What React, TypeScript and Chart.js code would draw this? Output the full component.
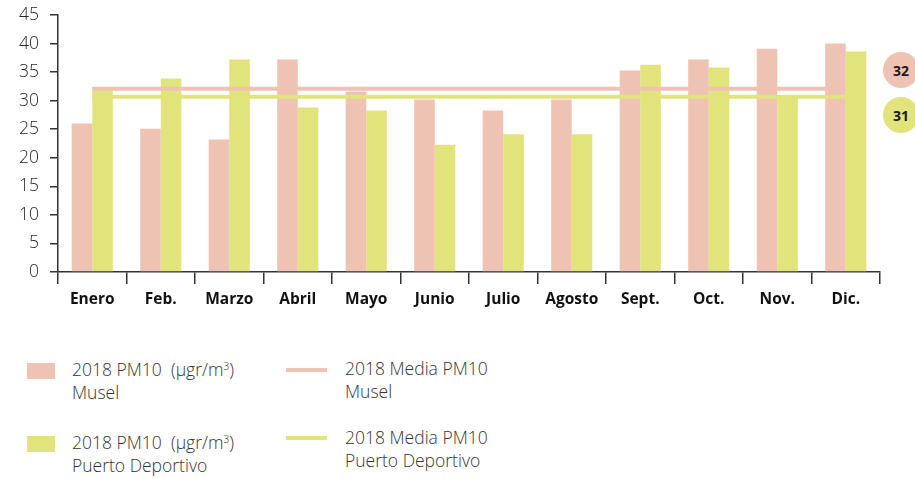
import React, { useEffect, useRef } from "react";
import { Chart, registerables } from "chart.js";

Chart.register(...registerables);

const months = ["Enero", "Feb.", "Marzo", "Abril", "Mayo", "Junio", "Julio", "Agosto", "Sept.", "Oct.", "Nov.", "Dic."];
const muselPM10 = [26.0, 25.1, 23.2, 37.2, 31.6, 30.2, 28.3, 30.2, 35.3, 37.2, 39.1, 40.0];
const puertoPM10 = [32.4, 33.9, 37.2, 28.8, 28.3, 22.3, 24.1, 24.1, 36.3, 35.8, 31.0, 38.6];
const muselMedia = [32.1, 32.1, 32.1, 32.1, 32.1, 32.1, 32.1, 32.1, 32.1, 32.1, 32.1, 32.1];
const puertoMedia = [30.7, 30.7, 30.7, 30.7, 30.7, 30.7, 30.7, 30.7, 30.7, 30.7, 30.7, 30.7];
const yTicks = [0, 5, 10, 15, 20, 25, 30, 35, 40, 45];
const badgeLabels = ["32", "31"];

const PINK = "rgb(239,195,179)";
const GREEN = "rgb(225,228,122)";
const AXIS = "#333333";

export default function App() {
  const canvasRef = useRef<HTMLCanvasElement | null>(null);

  useEffect(() => {
    document.body.style.margin = "0";
    const ctx = canvasRef.current!;
    const chart = new Chart(ctx, {
      type: "bar",
      data: {
        labels: months,
        datasets: [
          {
            type: "line",
            label: "2018 Media PM10 Musel",
            data: muselMedia,
            borderColor: PINK,
            borderWidth: 4,
            pointRadius: 0,
            fill: false,
            order: 0,
          } as any,
          {
            type: "line",
            label: "2018 Media PM10 Puerto Deportivo",
            data: puertoMedia,
            borderColor: GREEN,
            borderWidth: 4,
            pointRadius: 0,
            fill: false,
            order: 0,
          } as any,
          {
            label: "2018 PM10 Musel",
            data: muselPM10,
            backgroundColor: PINK,
            categoryPercentage: 0.6,
            barPercentage: 1.0,
            order: 1,
          },
          {
            label: "2018 PM10 Puerto Deportivo",
            data: puertoPM10,
            backgroundColor: GREEN,
            categoryPercentage: 0.6,
            barPercentage: 1.0,
            order: 1,
          },
        ],
      },
      options: {
        responsive: false,
        animation: false,
        layout: { padding: { left: 0, right: 35, top: 15, bottom: 0 } },
        plugins: {
          legend: { display: false },
          tooltip: { enabled: false },
        },
        scales: {
          x: {
            offset: true,
            grid: {
              offset: true,
              drawOnChartArea: false,
              drawTicks: true,
              tickLength: 12,
              color: AXIS,
              lineWidth: 1.5,
            },
            border: { color: AXIS, width: 1.5 },
            ticks: {
              color: "#111111",
              font: { family: "'Open Sans'", size: 15.5, weight: "bold" },
              padding: 6,
              maxRotation: 0,
            },
            afterFit: (scale: any) => {
              scale.height = 48;
              scale.paddingLeft = 0;
              scale.paddingRight = 0;
            },
          },
          y: {
            min: 0,
            max: 45,
            afterBuildTicks: (scale: any) => {
              scale.ticks = yTicks.map((v) => ({ value: v }));
            },
            grid: {
              drawOnChartArea: false,
              drawTicks: true,
              tickLength: 8,
              color: AXIS,
              lineWidth: 1.5,
            },
            border: { color: AXIS, width: 1.5 },
            ticks: {
              color: "#262626",
              font: { family: "'Open Sans'", size: 17.5, weight: "300" },
              padding: 11,
            },
            afterFit: (scale: any) => {
              scale.width = 58;
              scale.paddingTop = 0;
              scale.paddingBottom = 0;
            },
          },
        },
      },
    });
    return () => chart.destroy();
  }, []);

  const textStyle: React.CSSProperties = {
    position: "absolute",
    fontFamily: "'Open Sans', sans-serif",
    fontWeight: 300,
    fontSize: 17.5,
    lineHeight: "23px",
    color: "#333333",
    whiteSpace: "nowrap",
  };
  const badge = (top: number, color: string, text: string): React.ReactNode => (
    <div
      style={{
        position: "absolute",
        left: 883,
        top,
        width: 36,
        height: 36,
        borderRadius: "50%",
        background: color,
        display: "flex",
        alignItems: "center",
        justifyContent: "center",
        fontFamily: "'Open Sans', sans-serif",
        fontWeight: 700,
        fontSize: 14,
        color: "#1a1a1a",
        boxSizing: "border-box",
      }}
    >
      {text}
    </div>
  );
  const sup = { fontSize: 10, verticalAlign: "6px", lineHeight: 0 } as React.CSSProperties;

  return (
    <div style={{ position: "fixed", left: 0, top: 0, width: 915, height: 478, overflow: "hidden", background: "#fff" }}>
      <canvas ref={canvasRef} width={915} height={320} style={{ position: "absolute", left: 0, top: 0 }} />
      {badge(52, PINK, badgeLabels[0])}
      {badge(97, GREEN, badgeLabels[1])}

      <div style={{ position: "absolute", left: 27, top: 363, width: 28, height: 16, background: PINK }} />
      <div style={{ ...textStyle, left: 72, top: 358 }}>
        2018 PM10&nbsp;&nbsp;(µgr/m<sup style={sup}>3</sup>)
        <br />
        Musel
      </div>
      <div style={{ position: "absolute", left: 286, top: 368, width: 41, height: 4, background: PINK }} />
      <div style={{ ...textStyle, left: 345, top: 357 }}>
        2018 Media PM10
        <br />
        Musel
      </div>

      <div style={{ position: "absolute", left: 27, top: 436, width: 28, height: 16, background: GREEN }} />
      <div style={{ ...textStyle, left: 72, top: 431 }}>
        2018 PM10&nbsp;&nbsp;(µgr/m<sup style={sup}>3</sup>)
        <br />
        Puerto Deportivo
      </div>
      <div style={{ position: "absolute", left: 286, top: 436, width: 41, height: 4, background: GREEN }} />
      <div style={{ ...textStyle, left: 345, top: 426 }}>
        2018 Media PM10
        <br />
        Puerto Deportivo
      </div>
    </div>
  );
}
